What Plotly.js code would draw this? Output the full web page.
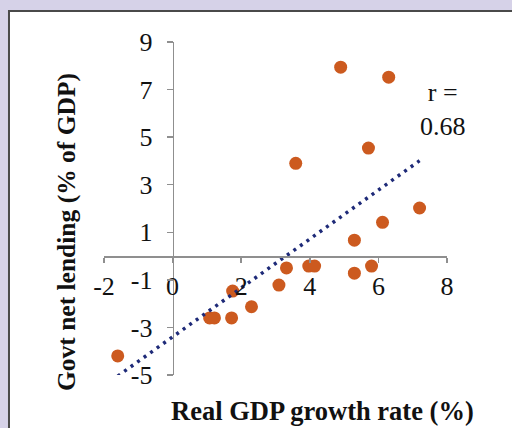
<!DOCTYPE html>
<html>
<head>
<meta charset="utf-8">
<script src="https://cdn.plot.ly/plotly-3.0.1.min.js"></script>
<style>
html,body{margin:0;padding:0;background:#d6d2e8;}
#chart{width:512px;height:428px;}
</style>
</head>
<body>
<div id="chart"></div>
<script>
// Real GDP growth rate (%)
const growth  = [-1.6, 1.08, 1.22, 1.72, 1.75, 2.3, 3.1, 3.32, 3.97, 4.14, 5.3, 5.8, 5.3, 6.12, 7.2, 3.59, 5.71, 4.9, 6.3];
// Govt net lending (% of GDP)
const lending = [-4.2, -2.6, -2.6, -2.6, -1.47, -2.13, -1.22, -0.5, -0.42, -0.42, -0.72, -0.42, 0.67, 1.42, 2.02, 3.9, 4.54, 7.94, 7.52];
const xTicks = [-2, 0, 2, 4, 6, 8];
const yTicks = [-5, -3, -1, 1, 3, 5, 7, 9];
const xRange = [-2, 8];
const yRange = [-5, 9];
const rLabel = "r =<br>0.68";
const xTitle = "Real GDP growth rate (%)";
const yTitle = "Govt net lending (% of GDP)";

// least-squares linear trend line (as the Excel trendline)
const n = growth.length;
const mx = growth.reduce((a, b) => a + b, 0) / n;
const my = lending.reduce((a, b) => a + b, 0) / n;
let sxy = 0, sxx = 0;
for (let i = 0; i < n; i++) { sxy += (growth[i] - mx) * (lending[i] - my); sxx += (growth[i] - mx) ** 2; }
const slope = sxy / sxx, icpt = my - slope * mx;
const tx = [Math.min(...growth), Math.max(...growth)];
const ty = tx.map(v => icpt + slope * v);

const serif = "Liberation Serif, Times New Roman, serif";
const axisCol = "#8f8f8f";

const traces = [
  {x: growth, y: lending, type: "scatter", mode: "markers",
   marker: {size: 13, color: "#cc5a1f"}, hoverinfo: "skip"},
  {x: tx, y: ty, type: "scatter", mode: "lines",
   line: {color: "#1e2a78", width: 3.5, dash: "3px,5px"}, hoverinfo: "skip"}
];

const layout = {
  width: 512, height: 428,
  margin: {l: 104, r: 65, t: 42, b: 53},
  paper_bgcolor: "#d6d2e8",
  plot_bgcolor: "#ffffff",
  showlegend: false,
  font: {family: serif, size: 26, color: "#111111"},
  xaxis: {
    range: xRange, tickvals: xTicks, ticktext: xTicks.map(String),
    anchor: "free", position: (0 - yRange[0]) / (yRange[1] - yRange[0]),
    showline: true, linecolor: axisCol, linewidth: 1.5,
    ticks: "outside", ticklen: 5, tickwidth: 1.5, tickcolor: axisCol,
    showgrid: false, zeroline: false, ticklabelstandoff: 1,
    tickfont: {family: serif, size: 26, color: "#111111"}
  },
  yaxis: {
    range: yRange, tickvals: yTicks, ticktext: yTicks.map(String),
    anchor: "free", position: (0 - xRange[0]) / (xRange[1] - xRange[0]),
    showline: true, linecolor: axisCol, linewidth: 1.5,
    ticks: "outside", ticklen: 6, tickwidth: 1.5, tickcolor: axisCol,
    showgrid: false, zeroline: false, ticklabelstandoff: 9,
    tickfont: {family: serif, size: 26, color: "#111111"}
  },
  shapes: [{
    type: "rect", xref: "paper", yref: "paper", layer: "below",
    x0: -0.277, x1: 1.5, y0: -0.5, y1: 1.093,
    fillcolor: "#ffffff", line: {color: "#4a4a4a", width: 2}
  }],
  annotations: [
    {text: rLabel, xref: "paper", yref: "paper", x: 0.988, y: 0.796,
     xanchor: "center", yanchor: "middle", showarrow: false, align: "center",
     font: {family: serif, size: 26, color: "#111111"}},
    {text: "<b>" + xTitle + "</b>", xref: "paper", yref: "paper", x: 0.636, y: -0.108,
     xanchor: "center", yanchor: "middle", showarrow: false,
     font: {family: serif, size: 26.5, color: "#111111"}},
    {text: "<b>" + yTitle + "</b>", xref: "paper", yref: "paper", x: -0.111, y: 0.429,
     xanchor: "center", yanchor: "middle", showarrow: false, textangle: -90,
     font: {family: serif, size: 25.5, color: "#111111"}}
  ]
};

Plotly.newPlot("chart", traces, layout, {staticPlot: true, displayModeBar: false});
</script>
</body>
</html>
